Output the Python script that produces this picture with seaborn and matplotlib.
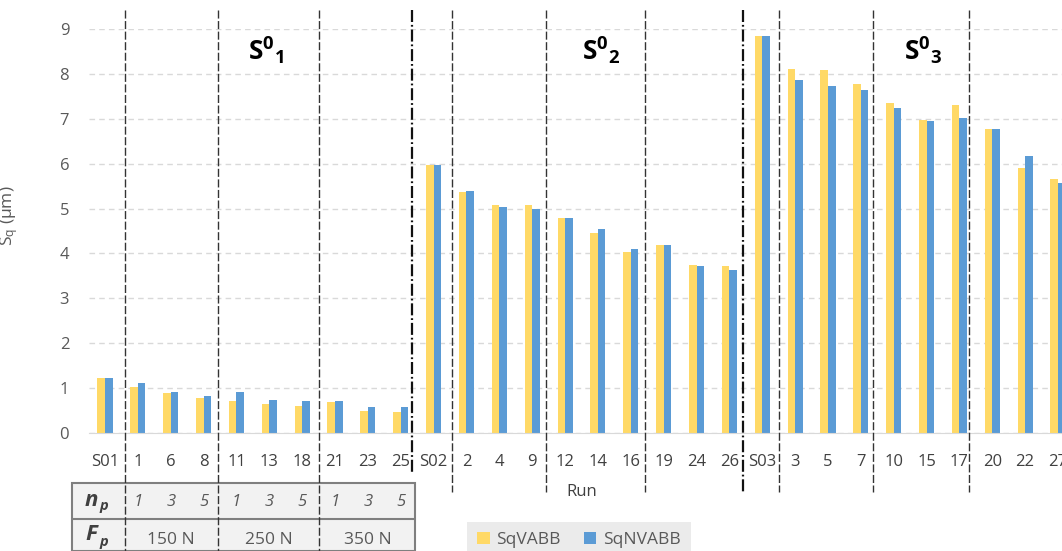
import pandas as pd
import numpy as np
import matplotlib
matplotlib.use('Agg')
import matplotlib.pyplot as plt
import matplotlib.transforms as mtransforms
from matplotlib.lines import Line2D
from matplotlib.patches import Rectangle, Patch
import seaborn as sns

# data
runs = ['S01', '1', '6', '8', '11', '13', '18', '21', '23', '25',
        'S02', '2', '4', '9', '12', '14', '16', '19', '24', '26',
        'S03', '3', '5', '7', '10', '15', '17', '20', '22', '27']
sq_vabb = [1.22, 1.02, 0.88, 0.78, 0.71, 0.65, 0.60, 0.68, 0.48, 0.46,
           5.97, 5.36, 5.07, 5.09, 4.80, 4.46, 4.04, 4.19, 3.75, 3.71,
           8.84, 8.11, 8.08, 7.77, 7.35, 6.97, 7.30, 6.77, 5.90, 5.66]
sq_nvabb = [1.22, 1.11, 0.92, 0.82, 0.92, 0.73, 0.71, 0.71, 0.58, 0.58,
            5.97, 5.39, 5.04, 5.00, 4.80, 4.54, 4.09, 4.19, 3.73, 3.63,
            8.84, 7.87, 7.72, 7.63, 7.24, 6.94, 7.02, 6.77, 6.17, 5.56]
series = ['SqVABB', 'SqNVABB']
colors = ['#FFD966', '#5B9BD5']
n_p = ['1', '3', '5'] * 3
f_p = ['150 N', '250 N', '350 N']
group_labels = [r'$\mathbf{S}^{\mathbf{0}}{}_{\mathbf{1}}$',
                r'$\mathbf{S}^{\mathbf{0}}{}_{\mathbf{2}}$',
                r'$\mathbf{S}^{\mathbf{0}}{}_{\mathbf{3}}$']

df = pd.DataFrame({'Run': runs * 2,
                   'Sq': sq_vabb + sq_nvabb,
                   'Series': [series[0]] * len(runs) + [series[1]] * len(runs)})

sns.set_style('white')
plt.rcParams['font.family'] = ['Open Sans', 'DejaVu Sans']
plt.rcParams['mathtext.fontset'] = 'custom'
plt.rcParams['mathtext.rm'] = 'Open Sans'
plt.rcParams['mathtext.it'] = 'Open Sans:italic'
plt.rcParams['mathtext.bf'] = 'Open Sans:bold'

W, H = 1062, 551
fig = plt.figure(figsize=(W / 100, H / 100), dpi=100)
fx = lambda p: p / W
fy = lambda p: 1 - p / H

ax = fig.add_axes([fx(88.6), fy(433), 985.8 / W, 404 / H])
sns.barplot(data=df, x='Run', y='Sq', hue='Series', order=runs, hue_order=series,
            palette=colors, saturation=1, width=0.46, errorbar=None, linewidth=0, ax=ax)
ax.get_legend().remove()
ax.set_xlim(-0.5, 29.5)
ax.set_ylim(0, 9)
ax.set_yticks(range(0, 10))
ax.yaxis.grid(True, color='#d9d9d9', linestyle=(0, (4, 3)), linewidth=1)
ax.set_axisbelow(True)
for s in ['top', 'right', 'left']:
    ax.spines[s].set_visible(False)
ax.spines['bottom'].set_color('#d9d9d9')
ax.tick_params(axis='x', length=0, pad=15, labelsize=12, labelcolor='#404040')
ax.tick_params(axis='y', length=0, pad=14, labelsize=12, labelcolor='#595959')
ax.set_xlabel('Run', fontsize=12, color='#404040', labelpad=10)
ax.set_ylabel(r'S$_\mathrm{q}$ (µm)', fontsize=12.5, color='#595959')
ax.yaxis.set_label_coords((20 - 88.6) / 985.8, (433 - 216) / 404)

# table under the first group
fig.add_artist(Rectangle((fx(72.3), 0), fx(415) - fx(72.3), fy(483.3),
                         transform=fig.transFigure, facecolor='#f2f2f2',
                         edgecolor='#7f7f7f', linewidth=1.5, zorder=1))
fig.add_artist(Line2D([fx(72.3), fx(415)], [fy(519.3), fy(519.3)],
                      transform=fig.transFigure, color='#7f7f7f', linewidth=1.5, zorder=1))
tb = mtransforms.blended_transform_factory(ax.transData, fig.transFigure)
fig.text(fx(91), fy(500), 'n', fontsize=16, fontweight='bold', style='italic',
         color='#404040', ha='center', va='center', zorder=4)
fig.text(fx(104), fy(506), 'p', fontsize=10.5, fontweight='bold', style='italic',
         color='#404040', ha='center', va='center', zorder=4)
fig.text(fx(91), fy(535), 'F', fontsize=16, fontweight='bold', style='italic',
         color='#404040', ha='center', va='center', zorder=4)
fig.text(fx(104), fy(542), 'p', fontsize=10.5, fontweight='bold', style='italic',
         color='#404040', ha='center', va='center', zorder=4)
for i, v in enumerate(n_p):
    fig.text(i + 1, fy(502), v, transform=tb, fontsize=12, style='italic',
             color='#595959', ha='center', va='center', zorder=4)
for i, v in enumerate(f_p):
    fig.text(3 * i + 2, fy(540), v, transform=tb, fontsize=12.5,
             color='#595959', ha='center', va='center', zorder=4)

# group separators
dashed = [(0.61, 0), (3.45, 0), (6.52, 0), (10.56, 492), (13.41, 492),
          (16.42, 492), (20.52, 492), (23.37, 492), (26.29, 492)]
for x, yb in dashed:
    fig.add_artist(Line2D([x, x], [fy(10), fy(yb) if yb else 0], transform=tb,
                          color='#333333', linewidth=1, linestyle=(0, (5.8, 1.8)), zorder=3))
for x, yb in [(9.35, 473), (19.42, 492)]:
    fig.add_artist(Line2D([x, x], [fy(10), fy(yb)], transform=tb, color='#111111',
                          linewidth=1.6, linestyle=(0, (5.4, 1.3, 0.8, 1.3)), zorder=3))

for x, lab in zip([4.9, 15.1, 24.9], group_labels):
    ax.text(x, fy(50), lab, transform=tb, fontsize=19, color='black',
            ha='center', va='center')

handles = [Patch(facecolor=c, edgecolor='none') for c in colors]
fig.legend(handles, series, loc='upper left', bbox_to_anchor=(fx(467), fy(521.7)),
           ncol=2, frameon=True, facecolor='#e7e6e6', edgecolor='none', fancybox=False,
           fontsize=12.5, labelcolor='#595959', handlelength=0.7, handleheight=0.7,
           handletextpad=0.4, columnspacing=1.3, borderaxespad=0, borderpad=0.6)

fig.savefig('out.png', dpi=100)
